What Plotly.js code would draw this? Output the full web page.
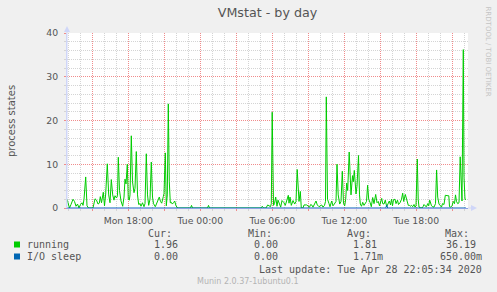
<!DOCTYPE html>
<html>
<head>
<meta charset="utf-8">
<script src="https://cdn.plot.ly/plotly-3.0.1.min.js"></script>
<style>html,body{margin:0;padding:0;background:#F0F0F0;}#chart{width:497px;height:292px;}</style>
</head>
<body>
<div id="chart"></div>
<script>
// RRD samples: 5-minute steps counted from the first sample of the graph
const START_UTC = Date.UTC(2020, 3, 27, 12, 53, 30);   // Mon 12:53:30
const STEP_MIN = 5;
const END_SAMPLE = 401;

const runningSample = [0,1.5,2.5,4,6,7.5,9,10.5,12,13.5,15,16,17,18.7,20,21.5,26,28,29.5,31,32.3,33.3,34.5,36.3,37.5,38.7,40.3,41.7,43,44.3,45.7,47,48,49.5,50.5,51.3,52.5,54,55.7,57,58,59,60.3,61.3,62.3,63,64.3,65.5,67,68,69.3,70.5,71.7,73,74,75.5,77,78,79.3,80.5,81.7,83,84.3,85.5,86.5,88.3,90,92.3,93.5,94.7,96.3,97,98.3,99.3,100.3,101.3,102.3,103.3,104.3,105.3,106.5,107.7,109,110.7,123.5,124.5,125.5,140.5,141.5,142.5,194,195.3,196.5,199,200.7,202,203.5,204.3,205.2,206.5,207.5,208.7,210,211,212,213.7,215,216.7,218.3,220,221.3,222,223,224.3,226,227.7,229,230.2,231.2,232,233.3,234.3,236,237,239.7,241,242.5,243.7,244.7,246,248,249,250.3,252,254.7,256,257.5,258.5,259.3,260.5,262,263,264.7,266,267.3,269,270,271.2,272.7,274,275.3,276.5,277.7,278.7,279.7,280.7,282.2,283.5,284,285.5,286.3,287.3,288.5,289,290,291.5,292.5,293.3,294.5,295.7,297,298,299.5,300.6,301.7,303,304.3,305.7,307,308.7,310,311.3,312.5,314.7,315.7,317,318.3,319.7,320.8,322.3,323.5,324.5,325.5,326.5,328,329,330.5,331.5,333,334.5,335.7,336.7,338.3,339.5,340.5,341.3,342.5,343.3,344.5,345.7,347,348,349,350.3,351.2,352,353.5,355,356,357,358,359.5,360.7,361.7,362.7,363.5,364.5,365.7,367,368.5,369.6,370.7,372,373.5,374.5,375.5,377,378.3,379.5,381,381.8,382.5,383.7,385,386.3,387.5,388.5,389.5,390.7,392,393.2,394.2,395,396.3,397,398,399];
const runningValue = [2.0,0.8,0,0.8,2.0,1.5,0.4,0.9,0,0.8,1.2,0.6,2.0,7.1,0.5,0,0,2.1,1.8,0.9,1.1,2.6,1.2,3.6,0.5,3.2,10.1,3.0,1.2,6.5,3.0,1.8,2.8,2.3,2.8,11.6,4.0,1.6,0.4,2.5,6.6,5.5,10.0,2.0,1.8,3.0,16.5,6.0,3.5,4.5,12.9,3.0,0.8,1.0,0.4,1.2,0.3,1.0,12.4,3.0,0.6,2.0,10.5,2.5,1.0,0.3,1.2,2.5,1.5,1.1,2.6,3.3,12.6,0.5,3.0,23.8,6.0,1.2,1.3,0.9,1.2,1.6,0.5,0,0,0.6,0,0,0.6,0,0,0.4,0,0,0.7,0.5,0.3,1.0,21.9,0.6,1.0,2.5,0.4,1.8,1.3,0.2,1.7,1.3,0.6,2.3,2.9,1.1,2.5,0.6,1.7,0.9,1.5,8.8,2.0,1.5,3.8,0,0,0.7,0.7,0.5,0.2,0.8,0.7,0.2,1.2,1.6,0.7,0.3,0.7,0.2,0.6,1.5,25.4,2.0,1.0,0.3,1.6,0.5,0.9,1.5,10.0,3.0,0.9,1.5,8.4,1.0,0.5,2.0,5.7,4.0,12.8,5.0,3.0,7.4,6.0,8.6,4.0,3.2,5.0,12.0,3.0,0.9,0.4,1.3,0.6,0.9,1.5,5.2,2.0,1.3,0.3,2.4,1.0,3.1,1.2,1.5,0.5,2.2,1.0,0.9,1.8,0.3,1.0,1.6,0.7,2.0,0.5,1.9,2.0,1.0,1.8,0.8,1.2,2.0,3.4,1.5,3.1,2.3,1.5,0.6,0.6,0.4,0.6,0.3,0.8,0.2,0.5,11.2,2.0,0.2,0.1,0,0.3,0.8,0.5,0.3,1.0,0.5,1.8,1.2,0.5,0.3,0.2,1.0,8.7,2.5,0.9,0.5,0.2,1.0,0.8,2.9,2.8,2.8,2.8,0.3,0.2,0.5,1.5,1.0,3.0,1.5,1.0,1.2,11.7,3.0,1.6,36.2,7.0,2.0,1.96];

const ioSample = [0, 318.8, 319.7, 320.6, 399];
const ioValue  = [0, 0, 0.65, 0, 0];

const seriesNames = ['running', 'I/O sleep'];
const seriesColors = ['#00CC00', '#0066B3'];
const statHeaders = ['Cur:', 'Min:', 'Avg:', 'Max:'];
const runningStats = ['1.96', '0.00', '1.81', '36.19'];
const ioStats = ['0.00', '0.00', '1.71m', '650.00m'];

const majorTickTimes = ['2020-04-27 15:00','2020-04-27 18:00','2020-04-27 21:00','2020-04-28 00:00','2020-04-28 03:00','2020-04-28 06:00','2020-04-28 09:00','2020-04-28 12:00','2020-04-28 15:00','2020-04-28 18:00','2020-04-28 21:00'];
const majorTickText = ['','Mon 18:00','','Tue 00:00','','Tue 06:00','','Tue 12:00','','Tue 18:00',''];
const yMajorTicks = [0, 10, 20, 30, 40];

function pad(n){return (n<10?'0':'')+n;}
function fmt(ms){
  const d = new Date(ms);
  return d.getUTCFullYear()+'-'+pad(d.getUTCMonth()+1)+'-'+pad(d.getUTCDate())+' '+pad(d.getUTCHours())+':'+pad(d.getUTCMinutes())+':'+pad(d.getUTCSeconds());
}
function sampleTime(s){ return fmt(START_UTC + s*STEP_MIN*60000); }

// hourly minor grid, skipping hours that carry a major (3-hour) line
const xMinor = [];
for (let h = 13; h <= 46; h++) if (h % 3 !== 0) xMinor.push(fmt(Date.UTC(2020,3,27,0,0,0) + h*3600000));
const yMinor = [];
for (let v = 2; v < 40; v += 2) if (v % 10 !== 0) yMinor.push(v);

// layout geometry (pixels)
const W = 497, H = 292, L = 67, R = 468, T = 33, B = 208;
function px(x){return (x-L)/(R-L);}
function py(y){return (B-y)/(B-T);}

const traces = [
  {x: runningSample.map(sampleTime), y: runningValue, type:'scatter', mode:'lines',
   line:{color:seriesColors[0], width:1}, hoverinfo:'skip', name:seriesNames[0]},
  {x: ioSample.map(sampleTime), y: ioValue, type:'scatter', mode:'lines',
   line:{color:seriesColors[1], width:1}, hoverinfo:'skip', name:seriesNames[1]}
];

const txt = '#555555';
const mono = 'DejaVu Sans Mono, monospace';
const sans = 'DejaVu Sans, sans-serif';
const ann = [];
function A(text, x, y, xanchor, size, color, family, angle){
  ann.push({text:text, xref:'paper', yref:'paper', x:px(x), y:py(y), xanchor:xanchor, yanchor:'middle',
    showarrow:false, borderpad:0, textangle:angle||0, font:{size:size, color:color, family:family}});
}
A('process states', 11, 121, 'center', 10, txt, sans, -90);
A('RRDTOOL / TOBI OETIKER', 487.5, 51, 'center', 7, '#c4c4c4', sans, 90);
const headRight = [172.5, 272.5, 372, 470.5];
const valRight = [[178.5, 278.5, 378, 477], [178.5, 278.5, 384, 483]];
statHeaders.forEach((h,i)=>A(h, headRight[i], 233, 'right', 10, txt, mono));
A(seriesNames[0], 26, 244.5, 'left', 10, txt, mono);
A(seriesNames[1], 26, 256.5, 'left', 10, txt, mono);
runningStats.forEach((v,i)=>A(v, valRight[0][i], 244.5, 'right', 10, txt, mono));
ioStats.forEach((v,i)=>A(v, valRight[1][i], 256.5, 'right', 10, txt, mono));
A('Last update: Tue Apr 28 22:05:34 2020', 483, 269, 'right', 10, txt, mono);
A('Munin 2.0.37-1ubuntu0.1', 247.5, 281, 'center', 8, '#b4b4b4', sans);

const axisC = '#CFD6F8';
const shapes = [
  {type:'rect', xref:'paper', yref:'paper', x0:px(14), x1:px(20), y0:py(241.5), y1:py(247.5), fillcolor:seriesColors[0], line:{width:0}},
  {type:'rect', xref:'paper', yref:'paper', x0:px(14), x1:px(20), y0:py(253.5), y1:py(259.5), fillcolor:seriesColors[1], line:{width:0}},
  {type:'line', xref:'paper', yref:'paper', x0:px(67), x1:px(67), y0:py(208), y1:py(29), line:{color:axisC, width:1}},
  {type:'path', xref:'paper', yref:'paper', path:'M '+px(64)+' '+py(32)+' L '+px(70)+' '+py(32)+' L '+px(67)+' '+py(26)+' Z', fillcolor:axisC, line:{width:0}},
  {type:'line', xref:'paper', yref:'paper', x0:px(468), x1:px(472), y0:0, y1:0, line:{color:axisC, width:1}},
  {type:'path', xref:'paper', yref:'paper', path:'M '+px(471)+' '+py(205)+' L '+px(471)+' '+py(211)+' L '+px(477)+' '+py(208)+' Z', fillcolor:axisC, line:{width:0}}
];

const gridMinor = '#d4d4d4';
const gridMajor = '#f08c8c';
const layout = {
  width: W, height: H,
  margin: {l:L, r:W-R, t:T, b:H-B, pad:0},
  paper_bgcolor:'#F0F0F0', plot_bgcolor:'#FFFFFF',
  showlegend:false,
  title:{text:'VMstat - by day', x:0.5, xref:'paper', xanchor:'center', y:1-13/H, yref:'container', yanchor:'middle',
         font:{family:sans, size:12.7, color:txt}},
  xaxis:{type:'date', range:[sampleTime(0), sampleTime(END_SAMPLE)], tickmode:'array', tickvals:majorTickTimes, ticktext:majorTickText,
    showgrid:true, gridcolor:gridMajor, griddash:'1px,1px', gridwidth:1,
    ticks:'outside', ticklen:2, tickcolor:gridMajor, tickfont:{family:sans, size:9.3, color:txt},
    ticklabelstandoff:2,
    minor:{tickmode:'array', tickvals:xMinor, showgrid:true, gridcolor:gridMinor, griddash:'1px,1px', gridwidth:1, ticks:'outside', ticklen:2, tickcolor:gridMinor},
    showline:true, linecolor:'#8da3e4', linewidth:1, zeroline:false, fixedrange:true},
  yaxis:{range:[0,40], tickmode:'array', tickvals:yMajorTicks,
    showgrid:true, gridcolor:gridMajor, griddash:'1px,1px', gridwidth:1,
    ticks:'outside', ticklen:2, tickcolor:gridMajor, tickfont:{family:sans, size:9.3, color:txt},
    ticklabelstandoff:4,
    minor:{tickmode:'array', tickvals:yMinor, showgrid:true, gridcolor:gridMinor, griddash:'1px,1px', gridwidth:1, ticks:'outside', ticklen:2, tickcolor:gridMinor},
    showline:true, linecolor:axisC, linewidth:1, zeroline:false, fixedrange:true},
  annotations: ann,
  shapes: shapes
};
Plotly.newPlot('chart', traces, layout, {staticPlot:true, displayModeBar:false});
</script>
</body>
</html>
